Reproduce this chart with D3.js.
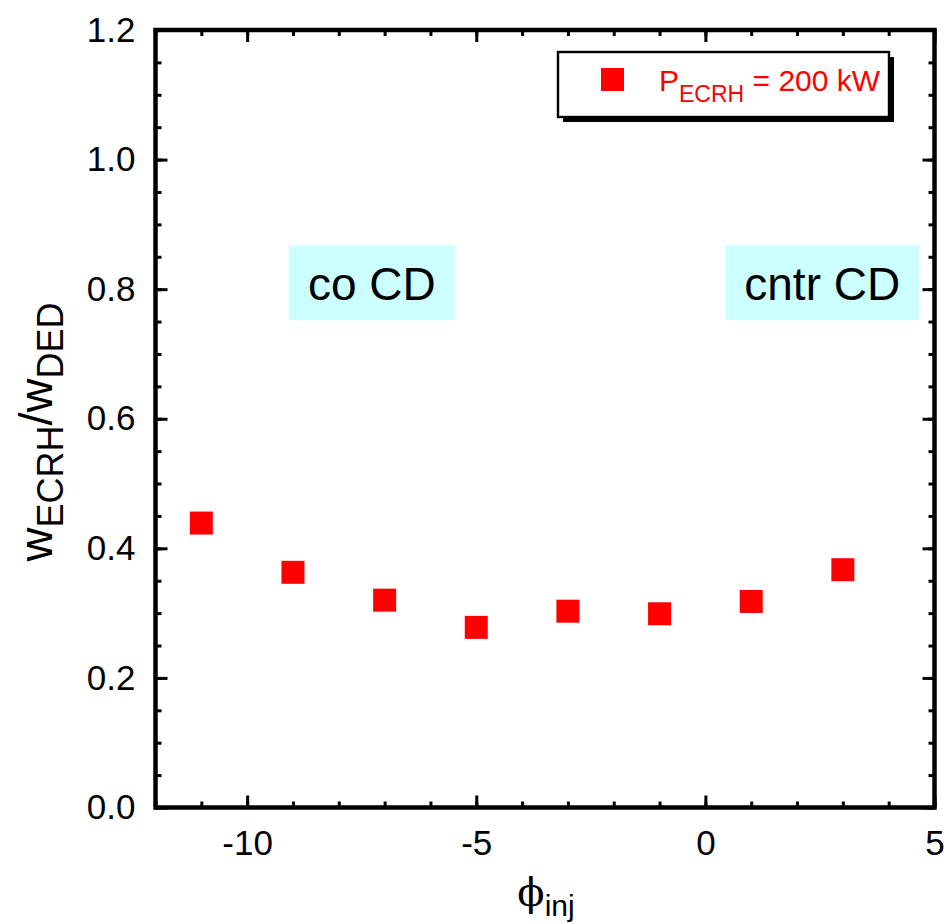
<!DOCTYPE html>
<html>
<head>
<meta charset="utf-8">
<script src="https://cdn.jsdelivr.net/npm/d3@7"></script>
<style>
  body { margin: 0; background: #fff; }
  svg { display: block; }
  text { font-family: "Liberation Sans", Arial, Helvetica, sans-serif; }
</style>
</head>
<body>
<svg id="chart" width="944" height="923"></svg>
<script>
// Injection angle (deg) and normalised ECRH deposition width
const phiInj = [-11, -9, -7, -5, -3, -1, 1, 3];
const wRatio = [0.439, 0.363, 0.320, 0.278, 0.303, 0.299, 0.318, 0.367];

const xMajorTicks = [-10, -5, 0, 5];
const xMinorTicks = d3.range(-12, 6, 1);
const yMajorTicks = [0, 0.2, 0.4, 0.6, 0.8, 1.0, 1.2];
const yMinorTicks = d3.range(0, 1.2001, 0.05);

const seriesName = { main: "P", sub: "ECRH", rest: " = 200 kW" };
const regionLabels = ["co CD", "cntr CD"];

const svg = d3.select("#chart");
const plotL = 155.5, plotR = 934.5, plotT = 30, plotB = 807.5;

const x = d3.scaleLinear().domain([-12, 5]).range([plotL, plotR]);
const y = d3.scaleLinear().domain([0, 1.2]).range([plotB, plotT]);

const tickFont = 35;

function styleAxis(g) {
  g.select(".domain").remove();
  g.selectAll(".tick line").attr("stroke", "#000").attr("stroke-width", 3);
  g.selectAll(".tick text")
    .attr("fill", "#000")
    .style("font-size", tickFont + "px")
    .style("font-family", '"Liberation Sans", Arial, Helvetica, sans-serif');
}

// Minor ticks on all four sides (pointing inward)
svg.append("g").attr("transform", `translate(0,${plotB})`)
  .call(d3.axisBottom(x).tickValues(xMinorTicks).tickSize(-6).tickFormat(""))
  .call(styleAxis);
svg.append("g").attr("transform", `translate(0,${plotT})`)
  .call(d3.axisTop(x).tickValues(xMinorTicks).tickSize(-6).tickFormat(""))
  .call(styleAxis);
svg.append("g").attr("transform", `translate(${plotL},0)`)
  .call(d3.axisLeft(y).tickValues(yMinorTicks).tickSize(-6).tickFormat(""))
  .call(styleAxis);
svg.append("g").attr("transform", `translate(${plotR},0)`)
  .call(d3.axisRight(y).tickValues(yMinorTicks).tickSize(-6).tickFormat(""))
  .call(styleAxis);

// Major ticks with labels
svg.append("g").attr("transform", `translate(0,${plotB})`)
  .call(d3.axisBottom(x).tickValues(xMajorTicks).tickSize(-12).tickPadding(23)
    .tickFormat(d => String(d)))
  .call(styleAxis);
svg.append("g").attr("transform", `translate(0,${plotT})`)
  .call(d3.axisTop(x).tickValues(xMajorTicks).tickSize(-12).tickFormat(""))
  .call(styleAxis);
svg.append("g").attr("transform", `translate(${plotL},0)`)
  .call(d3.axisLeft(y).tickValues(yMajorTicks).tickSize(-12).tickPadding(20)
    .tickFormat(d3.format(".1f")))
  .call(styleAxis);
svg.append("g").attr("transform", `translate(${plotR},0)`)
  .call(d3.axisRight(y).tickValues(yMajorTicks).tickSize(-12).tickFormat(""))
  .call(styleAxis);

// Plot frame
svg.append("rect")
  .attr("x", plotL).attr("y", plotT)
  .attr("width", plotR - plotL).attr("height", plotB - plotT)
  .attr("fill", "none").attr("stroke", "#000").attr("stroke-width", 4.5);

// Region labels on cyan panels
const regionPos = [{ cx: -7.28, cy: 0.81 }, { cx: 2.55, cy: 0.81 }];
regionLabels.forEach((label, i) => {
  const g = svg.append("g");
  const rect = g.append("rect").attr("fill", "#ccffff");
  const t = g.append("text")
    .attr("x", x(regionPos[i].cx))
    .attr("y", y(regionPos[i].cy) + 17)
    .attr("text-anchor", "middle")
    .style("font-size", "46px")
    .attr("fill", "#000")
    .text(label);
  const bb = t.node().getBBox();
  rect.attr("x", bb.x - 19).attr("width", bb.width + 38)
    .attr("y", y(regionPos[i].cy) - 37.5).attr("height", 75);
});

// Data markers
const size = 23;
svg.append("g").selectAll("rect")
  .data(phiInj.map((p, i) => [p, wRatio[i]]))
  .join("rect")
  .attr("x", d => x(d[0]) - size / 2)
  .attr("y", d => y(d[1]) - size / 2)
  .attr("width", size).attr("height", size)
  .attr("fill", "#ff0000");

// Legend with drop shadow
const lg = svg.append("g").attr("transform", "translate(558,52)");
lg.append("rect").attr("x", 5).attr("y", 5).attr("width", 331).attr("height", 65).attr("fill", "#000");
lg.append("rect").attr("x", 0).attr("y", 0).attr("width", 331).attr("height", 65)
  .attr("fill", "#fff").attr("stroke", "#000").attr("stroke-width", 2.4);
lg.append("rect").attr("x", 43).attr("y", 16).attr("width", size).attr("height", size).attr("fill", "#ff0000");
const lt = lg.append("text").attr("x", 101).attr("y", 39).attr("fill", "#ff0000").style("font-size", "30px");
lt.append("tspan").text(seriesName.main);
lt.append("tspan").attr("dy", 11).style("font-size", "23px").text(seriesName.sub);
lt.append("tspan").attr("dy", -11).text(seriesName.rest);

// Axis titles
const xt = svg.append("text")
  .attr("x", 546).attr("y", 906)
  .attr("text-anchor", "middle").attr("fill", "#000");
xt.append("tspan").style("font-size", "40px")
  .style("font-family", '"DejaVu Serif", "Liberation Serif", serif').text("\u03D5");
xt.append("tspan").attr("dy", 10).style("font-size", "30px").text("inj");

const yt = svg.append("text")
  .attr("transform", "translate(52,432) rotate(-90)")
  .attr("text-anchor", "middle").attr("fill", "#000");
yt.append("tspan").style("font-size", "47px").text("w");
yt.append("tspan").attr("dy", 11).style("font-size", "36px").text("ECRH");
yt.append("tspan").attr("dy", -11).style("font-size", "47px").text("/w");
yt.append("tspan").attr("dy", 11).style("font-size", "36px").text("DED");
</script>
</body>
</html>
